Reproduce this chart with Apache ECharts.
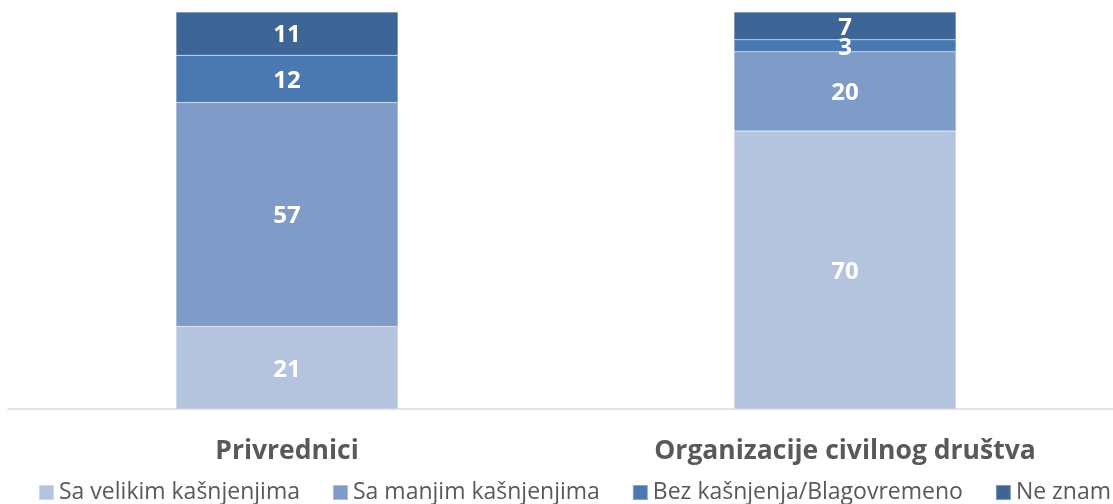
<!DOCTYPE html>
<html><head><meta charset="utf-8">
<script src="https://cdn.jsdelivr.net/npm/echarts@6/dist/echarts.min.js"></script>
<style>html,body{margin:0;padding:0;background:#fff}#c{width:1113px;height:504px}</style>
</head><body><div id="c"></div>
<script>
const categories = ['Privrednici', 'Organizacije civilnog društva'];
const seriesNames = ['Sa velikim kašnjenjima', 'Sa manjim kašnjenjima', 'Bez kašnjenja/Blagovremeno', 'Ne znam'];
const velikim = [21, 70];
const manjim = [57, 20];
const bez = [12, 3];
const neZnam = [11, 7];
const colors = ['#B4C3DE', '#7F9CC8', '#4A78B0', '#3D6696'];

const all = [velikim, manjim, bez, neZnam];
const totals = categories.map((_, i) => all.reduce((s, a) => s + a[i], 0));
const font = 'Open Sans';

const chart = echarts.init(document.getElementById('c'), null, {renderer: 'canvas'});
chart.setOption({
  animation: false,
  grid: {left: 8, top: 12, width: 1116, height: 397, containLabel: false, outerBoundsMode: 'none'},
  xAxis: {
    type: 'category', data: categories,
    axisLine: {lineStyle: {color: '#D9D9D9', width: 1.5}},
    axisTick: {show: false},
    axisLabel: {margin: 29, color: '#595959', fontFamily: font, fontWeight: 'bold', fontSize: 26.5}
  },
  yAxis: {type: 'value', min: 0, max: 100, show: false, splitLine: {show: false}},
  legend: {
    bottom: -5, left: 33, width: 1200, itemWidth: 15, itemHeight: 15, itemGap: 32,
    icon: 'rect',
    textStyle: {color: '#595959', fontFamily: font, fontSize: 23, padding: [0,0,0,0]},
    data: seriesNames
  },
  series: all.map((arr, k) => ({
    name: seriesNames[k], type: 'bar', stack: 't', barWidth: 222,
    itemStyle: {color: colors[k], borderColor: 'rgba(255,255,255,0.35)', borderWidth: 0.5},
    data: arr.map((v, i) => ({value: v / totals[i] * 100, raw: v})),
    label: {
      show: true, position: 'inside', offset: [0, 2], color: '#fff', fontFamily: font, fontWeight: 'bold', fontSize: 24,
      formatter: p => p.data.raw
    }
  }))
});
</script></body></html>
